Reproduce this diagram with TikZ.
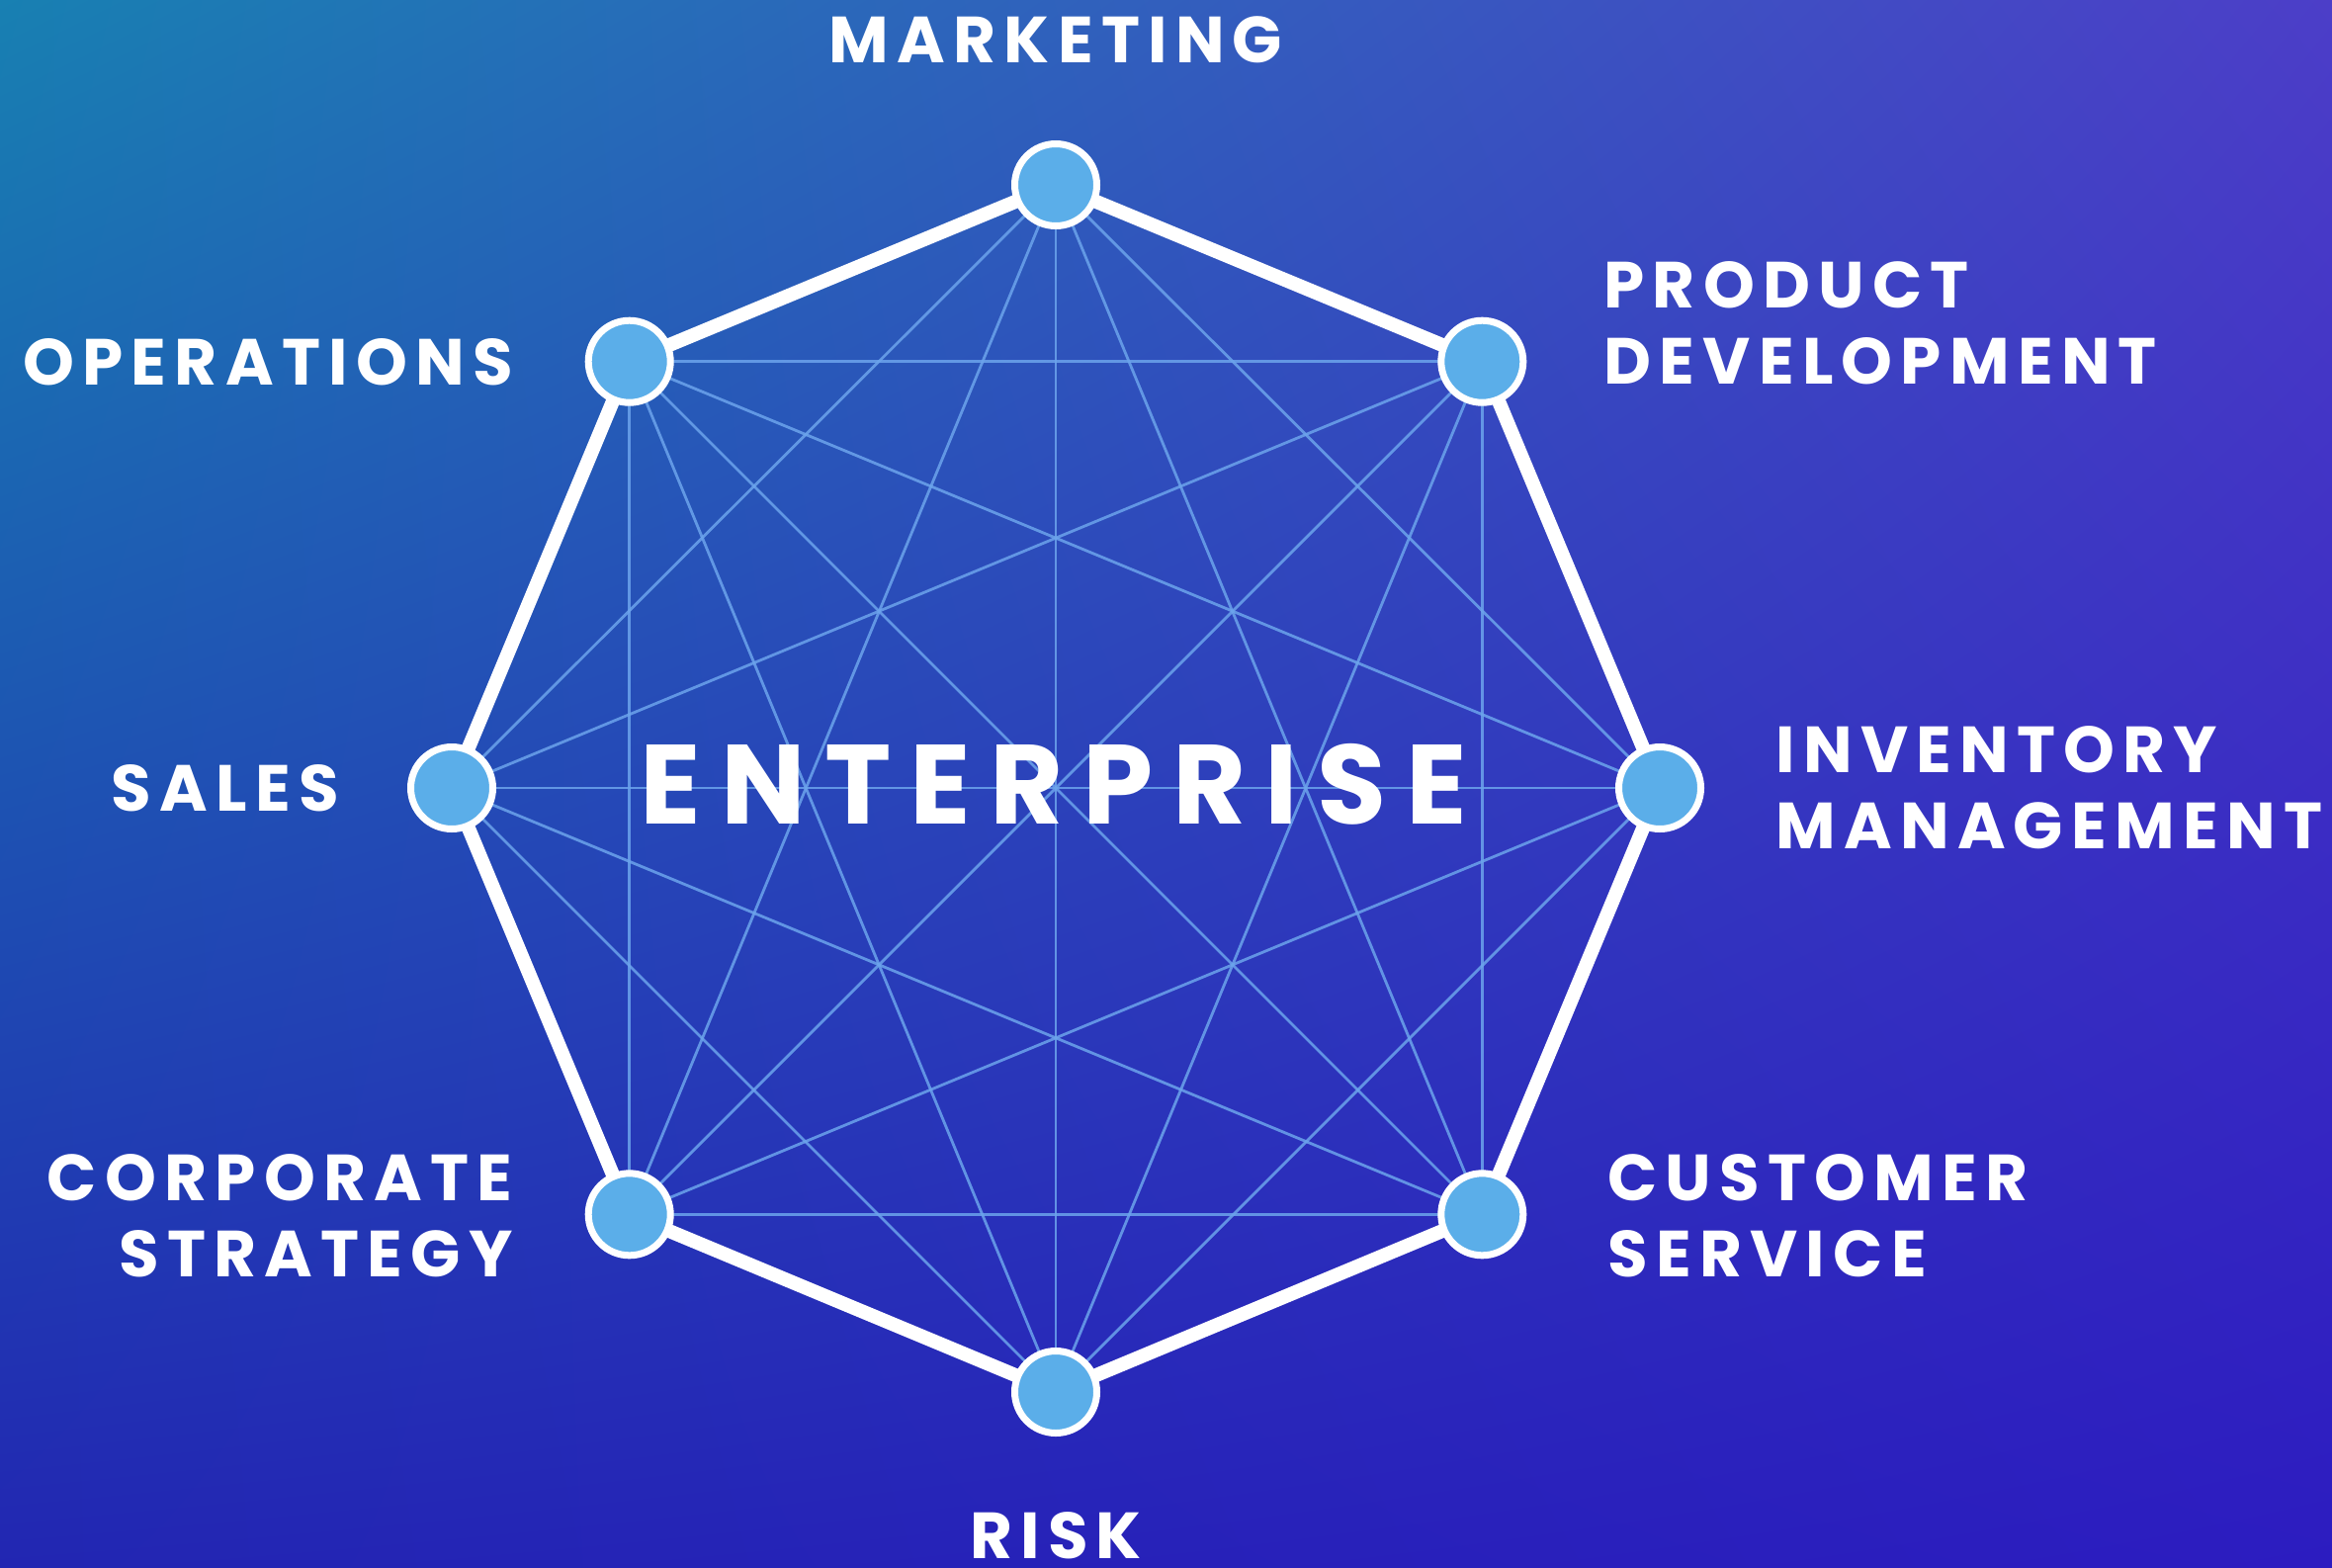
\documentclass[tikz,border=0pt]{standalone}
\usepackage{fontspec}
\newfontfamily\labfont{Poppins}[LetterSpace=12.5]
\newfontfamily\bigfont{Poppins}[LetterSpace=17]
\usetikzlibrary{calc,shadings}
\definecolor{bgUL}{RGB}{24,128,178}
\definecolor{bgUR}{RGB}{76,62,200}
\definecolor{bgLL}{RGB}{34,38,178}
\definecolor{bgLR}{RGB}{44,28,192}
\definecolor{nodefill}{RGB}{91,174,233}
\definecolor{chord}{RGB}{108,164,236}
\begin{document}
\begin{tikzpicture}[x=0.5pt,y=-0.5pt,
  hub/.style={circle,draw=white,line width=3.5pt,fill=nodefill,minimum size=41.5pt,inner sep=0pt},
  chordline/.style={draw=chord,line width=1.4pt,opacity=0.85},
  rim/.style={draw=white,line width=7pt,line join=miter},
  lab/.style={text=white,inner sep=0pt,font=\labfont\bfseries\fontsize{33}{38.5}\selectfont},
  big/.style={text=white,inner sep=0pt,font=\bigfont\bfseries\fontsize{57}{60}\selectfont}]
\shade[upper left=bgUL,upper right=bgUR,lower left=bgLL,lower right=bgLR] (0,0) rectangle (2359,1585);
\useasboundingbox (0,0) rectangle (2359,1585);
% node positions
\coordinate (pM) at (1068,187);
\coordinate (pP) at (1499.3,365.7);
\coordinate (pI) at (1679,797);
\coordinate (pC) at (1499.3,1228.3);
\coordinate (pR) at (1068,1408);
\coordinate (pT) at (636.7,1228.3);
\coordinate (pS) at (457,797);
\coordinate (pO) at (636.7,365.7);
% chords (complete graph)
\foreach \a/\b in {pM/pC,pM/pR,pM/pT,pM/pS,pM/pI,
                   pP/pC,pP/pR,pP/pT,pP/pS,pP/pO,
                   pI/pR,pI/pT,pI/pS,pI/pO,
                   pC/pT,pC/pS,pC/pO,
                   pR/pS,pR/pO,
                   pT/pO}
  \draw[chordline] (\a) -- (\b);
% outer octagon
\draw[rim] (pM) -- (pP) -- (pI) -- (pC) -- (pR) -- (pT) -- (pS) -- (pO) -- cycle;
% hubs
\foreach \p in {pM,pP,pI,pC,pR,pT,pS,pO}
  \node[hub] (h\p) at (\p) {};
% labels
\node[big] (ent) at (1066,793) {ENTERPRISE};
\node[lab] (lM) at (1068,40) {MARKETING};
\node[lab,anchor=west,align=left] (lP) at (1622,327) {PRODUCT\\DEVELOPMENT};
\node[lab,anchor=west,align=left] (lI) at (1796,797) {INVENTORY\\MANAGEMENT};
\node[lab,anchor=west,align=left] (lC) at (1626,1230) {CUSTOMER\\SERVICE};
\node[lab] (lR) at (1068,1553) {RISK};
\node[lab,anchor=east,align=right] (lT) at (519,1230) {CORPORATE\\STRATEGY};
\node[lab,anchor=east] (lS) at (343,797) {SALES};
\node[lab,anchor=east] (lO) at (519,366) {OPERATIONS};
\end{tikzpicture}
\end{document}
